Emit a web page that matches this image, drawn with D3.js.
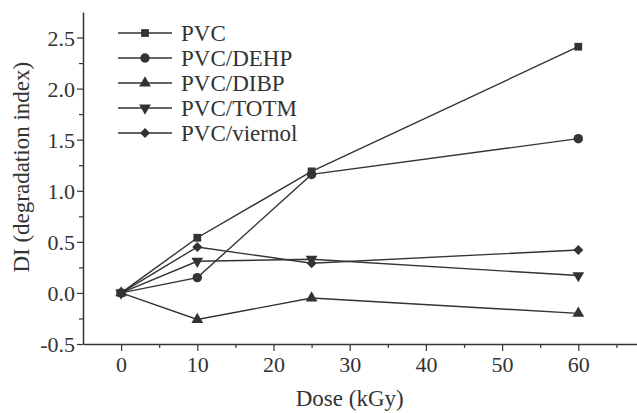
<!DOCTYPE html>
<html><head><meta charset="utf-8">
<script src="https://cdn.jsdelivr.net/npm/d3@7/dist/d3.min.js"></script>
<style>body{margin:0;background:#fff}svg{display:block}</style>
</head><body>
<svg id="c" width="637" height="413"></svg>
<script>
const doses = [0, 10, 25, 60];
const seriesNames = ["PVC", "PVC/DEHP", "PVC/DIBP", "PVC/TOTM", "PVC/viernol"];
const pvc = [0, 0.54, 1.19, 2.41];
const pvcDEHP = [0, 0.15, 1.16, 1.51];
const pvcDIBP = [0, -0.26, -0.05, -0.20];
const pvcTOTM = [0, 0.31, 0.33, 0.17];
const pvcViernol = [0, 0.45, 0.29, 0.42];
const xTicks = [0, 10, 20, 30, 40, 50, 60];
const yTicks = [-0.5, 0.0, 0.5, 1.0, 1.5, 2.0, 2.5];
const markers = ["square", "circle", "triangleUp", "triangleDown", "diamond"];

const values = [pvc, pvcDEHP, pvcDIBP, pvcTOTM, pvcViernol];
const series = seriesNames.map((n, i) => ({name: n, marker: markers[i], pts: doses.map((d, j) => [d, values[i][j]])}));

const svg = d3.select("#c");
const ink = "#333";
const font = "'Liberation Serif','Times New Roman',serif";
const x = d3.scaleLinear().domain([-5, 70]).range([83, 83 + 75 * 7.62]);
const y = d3.scaleLinear().domain([-0.5, 2.75]).range([344, 12]);

// minor ticks
const xMinor = d3.range(5, 70, 10);
const yMinor = d3.range(-0.25, 2.75, 0.5);
svg.append("g").attr("transform", `translate(0,${y(-0.5)})`)
  .call(d3.axisBottom(x).tickValues(xMinor).tickSize(4).tickFormat(""))
  .call(g => g.select(".domain").remove())
  .call(g => g.selectAll("line").attr("stroke", ink).attr("stroke-width", 1.2));
svg.append("g").attr("transform", `translate(${x(-5)},0)`)
  .call(d3.axisLeft(y).tickValues(yMinor).tickSize(4).tickFormat(""))
  .call(g => g.select(".domain").remove())
  .call(g => g.selectAll("line").attr("stroke", ink).attr("stroke-width", 1.2));

const xa = svg.append("g").attr("transform", `translate(0,${y(-0.5)})`)
  .call(d3.axisBottom(x).tickValues(xTicks).tickSize(7).tickSizeOuter(0).tickPadding(5).tickFormat(d3.format("d")));
const ya = svg.append("g").attr("transform", `translate(${x(-5)},0)`)
  .call(d3.axisLeft(y).tickValues(yTicks).tickSize(6).tickSizeOuter(0).tickPadding(2)
    .tickFormat(d => d3.format(".1f")(d).replace("\u2212", "-")));
[xa, ya].forEach(a => {
  a.select(".domain").attr("stroke", ink).attr("stroke-width", 1.5);
  a.selectAll(".tick line").attr("stroke", ink).attr("stroke-width", 1.2);
  a.selectAll(".tick text").attr("fill", ink).style("font-family", font).style("font-size", "22px");
});
ya.selectAll(".tick text").attr("dy", "0.36em");

svg.append("text").attr("x", x(30)).attr("y", 406).attr("text-anchor", "middle")
  .attr("fill", ink).style("font-family", font).style("font-size", "23px").text("Dose (kGy)");
svg.append("text").attr("transform", `translate(29,${y(1.25) + 2}) rotate(-90)`).attr("text-anchor", "middle")
  .attr("fill", ink).style("font-family", font).style("font-size", "23px").text("DI (degradation index)");

function markerPath(type) {
  const sym = {square: d3.symbolSquare, circle: d3.symbolCircle, triangleUp: d3.symbolTriangle,
    triangleDown: d3.symbolTriangle, diamond: d3.symbolSquare}[type];
  const size = {square: 60, circle: 70, triangleUp: 60, triangleDown: 60, diamond: 50}[type];
  return d3.symbol().type(sym).size(size)();
}
function markerRot(type) {
  return type === "triangleDown" ? " rotate(180)" : type === "diamond" ? " rotate(45)" : "";
}

const line = d3.line().x(d => x(d[0])).y(d => y(d[1]));
series.forEach(s => {
  svg.append("path").attr("d", line(s.pts)).attr("fill", "none").attr("stroke", ink).attr("stroke-width", 1.4);
});
series.forEach(s => {
  svg.selectAll(null).data(s.pts).enter().append("path")
    .attr("d", markerPath(s.marker))
    .attr("transform", d => `translate(${x(d[0])},${y(d[1])})` + markerRot(s.marker))
    .attr("fill", ink);
});

// legend
const lg = svg.append("g");
series.forEach((s, i) => {
  const yy = 33 + i * 25;
  lg.append("line").attr("x1", 118).attr("x2", 172).attr("y1", yy).attr("y2", yy).attr("stroke", ink).attr("stroke-width", 1.4);
  lg.append("path").attr("d", markerPath(s.marker))
    .attr("transform", `translate(145,${yy})` + markerRot(s.marker)).attr("fill", ink);
  lg.append("text").attr("x", 181).attr("y", yy + 8).attr("fill", ink)
    .style("font-family", font).style("font-size", "23px").text(s.name);
});
</script>
</body></html>
